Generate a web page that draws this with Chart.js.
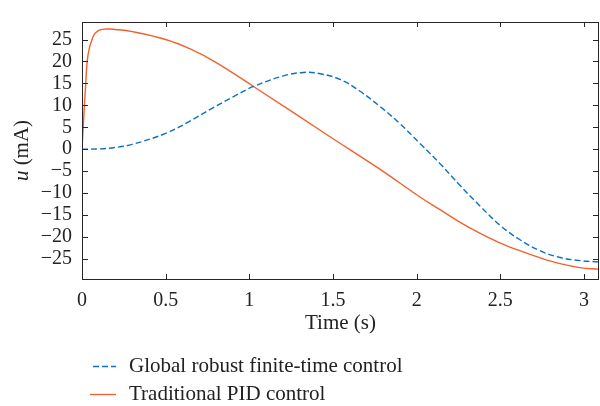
<!DOCTYPE html>
<html>
<head>
<meta charset="utf-8">
<script src="https://cdn.jsdelivr.net/npm/chart.js@4.4.1/dist/chart.umd.min.js"></script>
<style>
  html, body { margin: 0; padding: 0; background: #fff; }
  #wrap { width: 600px; height: 406px; }
</style>
</head>
<body>
<div id="wrap"><canvas id="chart"></canvas></div>
<script>
// values
const timeGlobal = [0, 0.1, 0.2, 0.3, 0.5, 0.65, 0.772, 0.906, 1.025, 1.204, 1.324, 1.424, 1.543, 1.662, 1.782, 1.901, 2.02, 2.14, 2.26, 2.38, 2.5, 2.62, 2.74, 2.857, 2.977, 3.09];
const uGlobal = [0, 0.05, 0.4, 1.1, 3.6, 6.5, 9.2, 12.0, 14.3, 16.7, 17.5, 17.2, 15.9, 13.2, 9.7, 5.8, 1.3, -3.3, -8.3, -13.0, -17.4, -20.7, -23.2, -24.7, -25.4, -25.7];

const timePid = [0, 0.01, 0.02, 0.036, 0.065, 0.095, 0.146, 0.2, 0.3, 0.5, 0.65, 0.8, 1.025, 1.48, 1.782, 2.02, 2.14, 2.26, 2.38, 2.5, 2.62, 2.74, 2.857, 2.977, 3.09];
const uPid = [0, 7, 13.5, 21.5, 25.6, 27.0, 27.4, 27.3, 26.8, 25.0, 22.8, 19.8, 14.3, 2.9, -4.6, -10.9, -13.8, -16.7, -19.2, -21.4, -23.2, -24.8, -26.1, -27.0, -27.4];

const seriesNames = ["Global robust finite-time control", "Traditional PID control"];
const xTicks = [0, 0.5, 1, 1.5, 2, 2.5, 3];
const yTicks = [-25, -20, -15, -10, -5, 0, 5, 10, 15, 20, 25];

const SERIF = "'Liberation Serif', 'DejaVu Serif', serif";
const BLUE = "#0a72c0";
const ORANGE = "#f2612c";
const INK = "#222";

const toPoints = (xs, ys) => xs.map((x, i) => ({ x: x, y: ys[i] }));
const minusSign = v => String(v).replace("-", "\u2212");

// frame + inward ticks, axis titles, legend under the plot
const framePlugin = {
  id: "frame",
  afterDatasetsDraw(chart) {
    const { ctx, chartArea: a, scales: { x, y } } = chart;
    ctx.save();
    ctx.strokeStyle = "#262626";
    ctx.lineWidth = 1;
    ctx.strokeRect(Math.round(a.left) + 0.5, Math.round(a.top) + 0.5,
      Math.round(a.right - a.left) - 1, Math.round(a.bottom - a.top));
    ctx.beginPath();
    xTicks.forEach(t => {
      const px = Math.round(x.getPixelForValue(t)) + 0.5;
      ctx.moveTo(px, a.bottom); ctx.lineTo(px, a.bottom - 5);
      ctx.moveTo(px, a.top); ctx.lineTo(px, a.top + 5);
    });
    yTicks.forEach(t => {
      const py = Math.round(y.getPixelForValue(t)) + 0.5;
      ctx.moveTo(a.left, py); ctx.lineTo(a.left + 6, py);
      ctx.moveTo(a.right, py); ctx.lineTo(a.right - 6, py);
    });
    ctx.stroke();
    ctx.restore();
  },
  afterDraw(chart) {
    const { ctx, chartArea: a } = chart;

    // x axis title
    ctx.save();
    ctx.fillStyle = INK;
    ctx.font = "21px " + SERIF;
    ctx.textAlign = "center";
    ctx.textBaseline = "middle";
    ctx.fillText("Time (s)", (a.left + a.right) / 2, 323);
    ctx.restore();

    // y axis title: italic u + (mA)
    ctx.save();
    ctx.translate(22, (a.top + a.bottom) / 2);
    ctx.rotate(-Math.PI / 2);
    ctx.fillStyle = INK;
    ctx.textBaseline = "middle";
    ctx.textAlign = "left";
    ctx.font = "italic 21px " + SERIF;
    const wU = ctx.measureText("u ").width;
    ctx.font = "21px " + SERIF;
    const wRest = ctx.measureText("(mA)").width;
    const sx = -(wU + wRest) / 2;
    ctx.font = "italic 21px " + SERIF;
    ctx.fillText("u ", sx, 0);
    ctx.font = "21px " + SERIF;
    ctx.fillText("(mA)", sx + wU, 0);
    ctx.restore();

    // legend
    ctx.save();
    ctx.font = "21px " + SERIF;
    ctx.textBaseline = "middle";
    ctx.fillStyle = INK;
    const rows = [366, 394];
    chart.data.datasets.forEach((ds, i) => {
      const yy = rows[i] + 0.5;
      ctx.strokeStyle = ds.borderColor;
      ctx.lineWidth = 1.3;
      ctx.setLineDash(ds.borderDash || []);
      ctx.beginPath();
      ctx.moveTo(i === 0 ? 93 : 90, yy);
      ctx.lineTo(116, yy);
      ctx.stroke();
      ctx.setLineDash([]);
      ctx.fillText(ds.label, 129, rows[i]);
    });
    ctx.restore();
  }
};

new Chart(document.getElementById("chart"), {
  type: "line",
  data: {
    datasets: [
      {
        label: seriesNames[0],
        data: toPoints(timeGlobal, uGlobal),
        borderColor: BLUE,
        borderWidth: 1.4,
        borderDash: [6, 3],
        pointRadius: 0,
        tension: 0.4,
        fill: false
      },
      {
        label: seriesNames[1],
        data: toPoints(timePid, uPid),
        borderColor: ORANGE,
        borderWidth: 1.4,
        pointRadius: 0,
        tension: 0.4,
        fill: false
      }
    ]
  },
  options: {
    responsive: true,
    maintainAspectRatio: false,
    animation: false,
    layout: { padding: { top: 10, right: 1, left: 0, bottom: 0 } },
    plugins: { legend: { display: false }, tooltip: { enabled: false } },
    scales: {
      x: {
        type: "linear",
        min: 0,
        max: 3.09,
        grid: { display: false, drawTicks: false },
        border: { display: false },
        afterBuildTicks: s => { s.ticks = xTicks.map(v => ({ value: v })); },
        ticks: {
          color: INK,
          font: { family: SERIF, size: 20 },
          padding: 10,
          maxRotation: 0,
          autoSkip: false,
          callback: v => String(v)
        },
        afterFit: s => { s.height = 127; }
      },
      y: {
        min: -29.6,
        max: 29,
        grid: { display: false, drawTicks: false },
        border: { display: false },
        afterBuildTicks: s => { s.ticks = yTicks.map(v => ({ value: v })); },
        ticks: {
          color: INK,
          font: { family: SERIF, size: 20 },
          padding: 10,
          autoSkip: false,
          callback: v => minusSign(v)
        },
        afterFit: s => { s.width = 82; }
      }
    }
  },
  plugins: [framePlugin]
});
</script>
</body>
</html>
